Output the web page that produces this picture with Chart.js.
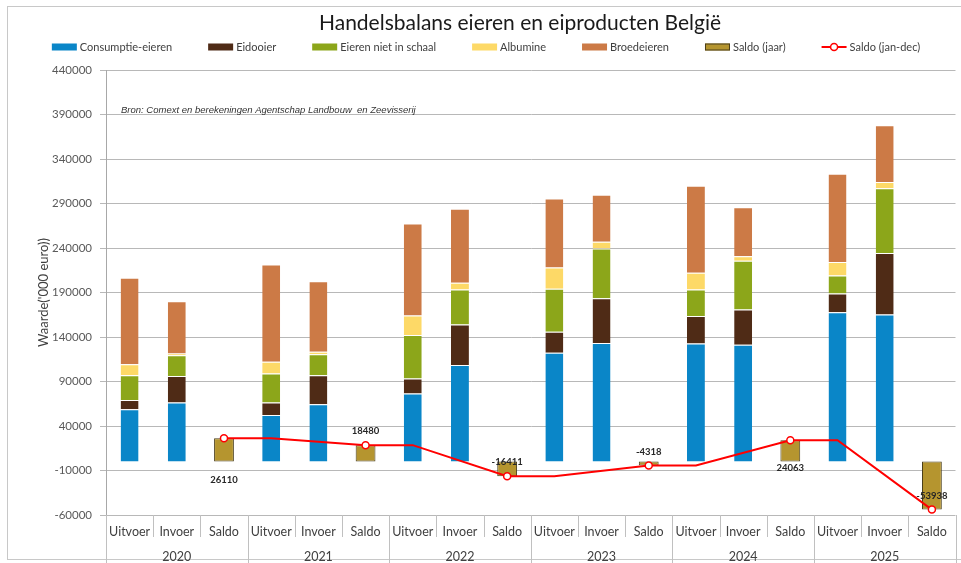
<!DOCTYPE html>
<html>
<head>
<meta charset="utf-8">
<title>Handelsbalans eieren en eiproducten België</title>
<script src="https://cdn.jsdelivr.net/npm/chart.js@4.4.1/dist/chart.umd.min.js"></script>
<style>
  html, body { margin: 0; padding: 0; background: #ffffff; }
  canvas { display: block; }
</style>
</head>
<body>
<canvas id="chart" width="961" height="563"></canvas>
<script>
// Categories: per year export, import and balance
const categories = [
  'Uitvoer', 'Invoer', 'Saldo', 'Uitvoer', 'Invoer', 'Saldo',
  'Uitvoer', 'Invoer', 'Saldo', 'Uitvoer', 'Invoer', 'Saldo',
  'Uitvoer', 'Invoer', 'Saldo', 'Uitvoer', 'Invoer', 'Saldo'
];
const years = ['2020', '2021', '2022', '2023', '2024', '2025'];

// Values in '000 euro (null where the category has no bar of this kind)
const consumptieEieren = [58700, 66400, null, 52500, 64500, null, 76500, 108500, null,
                         122400, 133200, null, 132800, 131400, null, 167900, 165400, null];
const eidooier =         [10600, 29800, null, 13900, 32500, null, 16800, 45600, null,
                          23600, 50400, null, 30700, 39600, null, 21000, 69100, null];
const eierenNietInSchaal = [27700, 23200, null, 32500, 23500, null, 48900, 39300, null,
                            48200, 55700, null, 29900, 54600, null, 20200, 72500, null];
const albumine =         [12300, 2200, null, 13400, 3000, null, 22000, 7500, null,
                          23800, 7700, null, 18700, 5100, null, 15300, 7100, null];
const broedeieren =      [97200, 58700, null, 109100, 79200, null, 103200, 83300, null,
                          77700, 52900, null, 97900, 55000, null, 99000, 63900, null];
const saldoJaar = [26110, 18480, -16411, -4318, 24063, -53938];
const saldoJanDec = [null, null, 26110, 26110, null, 18480, 18480, null, -16411,
                     -16411, null, -4318, -4318, null, 24063, 24063, null, -53938];

const yMin = -60000, yMax = 440000, yStep = 50000;

const FONT = 'Lato, "Open Sans", sans-serif';
const TEXT = '#404040';

// Balance bars sit on the "Saldo" slot of each year
const saldoJaarBars = categories.map((c, i) => (i % 3 === 2 ? saldoJaar[(i - 2) / 3] : null));

const segmentBorder = { top: 1, left: 0, right: 0, bottom: 0 };
function stackSeries(label, data, color) {
  return {
    type: 'bar', label, data, backgroundColor: color,
    borderColor: 'rgba(255,255,255,0.65)', borderWidth: segmentBorder, borderSkipped: false,
    stack: 'handel', barPercentage: 0.38, categoryPercentage: 1, order: 2
  };
}

// White page with a thin frame
const framePlugin = {
  id: 'frame',
  beforeDraw(chart) {
    const ctx = chart.ctx;
    ctx.save();
    ctx.fillStyle = '#ffffff';
    ctx.fillRect(0, 0, chart.width, chart.height);
    ctx.strokeStyle = '#c8c8c8';
    ctx.lineWidth = 1;
    ctx.strokeRect(7.5, 6.5, chart.width + 10, 553);
    ctx.restore();
  }
};

// Title and legend row
const headerPlugin = {
  id: 'header',
  afterDraw(chart) {
    const ctx = chart.ctx;
    ctx.save();
    ctx.fillStyle = '#1a1a1a';
    ctx.font = '21px ' + FONT;
    ctx.textAlign = 'center';
    ctx.textBaseline = 'middle';
    ctx.fillText('Handelsbalans eieren en eiproducten België', 520, 23);

    ctx.font = '11px ' + FONT;
    ctx.textAlign = 'left';
    const boxW = 25, boxH = 7, gapText = 3, gapItem = 36, cy = 47;
    const items = chart.data.datasets.map(ds => ({
      ds, w: boxW + gapText + ctx.measureText(ds.label).width
    }));
    const total = items.reduce((s, it) => s + it.w, 0) + gapItem * (items.length - 1);
    let x = 486 - total / 2;
    items.forEach(({ ds, w }) => {
      if (ds.type === 'line') {
        ctx.strokeStyle = ds.borderColor;
        ctx.lineWidth = 2;
        ctx.beginPath();
        ctx.moveTo(x, cy);
        ctx.lineTo(x + boxW, cy);
        ctx.stroke();
        ctx.beginPath();
        ctx.arc(x + boxW / 2, cy, 3.5, 0, Math.PI * 2);
        ctx.fillStyle = '#ffffff';
        ctx.fill();
        ctx.lineWidth = 1.5;
        ctx.stroke();
      } else {
        ctx.fillStyle = ds.backgroundColor;
        ctx.fillRect(x, cy - boxH / 2, boxW, boxH);
        if (ds.label === 'Saldo (jaar)') {
          ctx.strokeStyle = ds.borderColor;
          ctx.lineWidth = 1;
          ctx.strokeRect(x + 0.5, cy - boxH / 2 + 0.5, boxW - 1, boxH - 1);
        }
      }
      ctx.fillStyle = TEXT;
      ctx.fillText(ds.label, x + boxW + gapText, cy + 0.5);
      x += w + gapItem;
    });
    ctx.restore();
  }
};

// Source note inside the plot
const sourcePlugin = {
  id: 'sourceNote',
  beforeDatasetsDraw(chart) {
    const { ctx, chartArea } = chart;
    ctx.save();
    ctx.fillStyle = '#333333';
    ctx.font = 'italic 9.5px "Liberation Sans", Arial, sans-serif';
    ctx.textBaseline = 'middle';
    ctx.fillText('Bron: Comext en berekeningen Agentschap Landbouw  en Zeevisserij', chartArea.left + 15, chartArea.top + 40);
    ctx.restore();
  }
};

// Separators between the category labels and the year groups
const separatorPlugin = {
  id: 'separators',
  afterDraw(chart) {
    const { ctx, chartArea } = chart;
    const xs = chart.scales.x;
    const ys = chart.scales.years;
    ctx.save();
    ctx.strokeStyle = '#c0c0c0';
    ctx.lineWidth = 1;
    for (let i = 0; i <= categories.length; i++) {
      const px = Math.round(xs.getPixelForValue(i - 0.5)) + 0.5;
      const yEnd = i % 3 === 0 ? chart.height : ys.top - 4;
      ctx.beginPath();
      ctx.moveTo(px, chartArea.bottom);
      ctx.lineTo(px, yEnd);
      ctx.stroke();
    }
    ctx.restore();
  }
};

// Balance values written next to the line markers
const labelOffsets = [42, -14, -14, -14, 28, -14];
const valueLabelPlugin = {
  id: 'valueLabels',
  afterDatasetsDraw(chart) {
    const idx = chart.data.datasets.findIndex(d => d.type === 'line');
    const meta = chart.getDatasetMeta(idx);
    const ctx = chart.ctx;
    ctx.save();
    ctx.fillStyle = '#262626';
    ctx.font = 'bold 9.5px ' + FONT;
    ctx.textAlign = 'center';
    ctx.textBaseline = 'middle';
    let n = 0;
    chart.data.datasets[idx].data.forEach((v, i) => {
      if (i % 3 !== 2 || v === null) return;
      const pt = meta.data[i];
      ctx.fillText(String(v), pt.x, pt.y + labelOffsets[n]);
      n++;
    });
    ctx.restore();
  }
};

new Chart(document.getElementById('chart'), {
  data: {
    labels: categories,
    datasets: [
      stackSeries('Consumptie-eieren', consumptieEieren, '#0A86C8'),
      stackSeries('Eidooier', eidooier, '#4F2B16'),
      stackSeries('Eieren niet in schaal', eierenNietInSchaal, '#8CA61A'),
      stackSeries('Albumine', albumine, '#FDD967'),
      stackSeries('Broedeieren', broedeieren, '#CC7A46'),
      {
        type: 'bar', label: 'Saldo (jaar)', data: saldoJaarBars,
        backgroundColor: '#B5952F', borderColor: '#4A3F1C', borderWidth: 1, borderSkipped: false,
        stack: 'handel', barPercentage: 0.42, categoryPercentage: 1, order: 2
      },
      {
        type: 'line', label: 'Saldo (jan-dec)', data: saldoJanDec,
        borderColor: '#FF0000', borderWidth: 2, spanGaps: true, tension: 0,
        pointRadius: saldoJanDec.map((v, i) => (i % 3 === 2 ? 3.5 : 0)),
        pointBackgroundColor: '#ffffff', pointBorderColor: '#FF0000', pointBorderWidth: 1.5,
        stack: 'lijn', order: 0
      }
    ]
  },
  options: {
    responsive: false,
    devicePixelRatio: 1,
    animation: false,
    layout: { padding: { top: 70, right: 2, bottom: 0, left: 0 } },
    plugins: {
      legend: { display: false },
      title: { display: false },
      tooltip: { enabled: false }
    },
    scales: {
      x: {
        type: 'category',
        stacked: true,
        offset: true,
        weight: 0,
        grid: { display: false, drawTicks: false },
        border: { display: false },
        ticks: { color: TEXT, font: { family: FONT, size: 12.5 }, padding: 9, maxRotation: 0, autoSkip: false },
        afterFit(s) { s.height = 26; }
      },
      years: {
        type: 'category',
        position: 'bottom',
        labels: years,
        offset: true,
        weight: 1,
        grid: { display: false, drawTicks: false },
        border: { display: false },
        ticks: { color: TEXT, font: { family: FONT, size: 12.5 }, padding: 8, maxRotation: 0, autoSkip: false },
        afterFit(s) { s.height = 22; }
      },
      y: {
        stacked: true,
        min: yMin,
        max: yMax,
        ticks: {
          stepSize: yStep,
          color: '#595959',
          font: { family: FONT, size: 11.5 },
          padding: 8,
          callback: v => String(v)
        },
        grid: { color: '#b8b8b8', tickLength: 6, tickColor: '#b8b8b8' },
        border: { color: '#a8a8a8' },
        title: {
          display: true,
          text: "Waarde('000 euro))",
          color: TEXT,
          font: { family: FONT, size: 13 },
          padding: { top: 36, bottom: 0 }
        },
        afterFit(s) { s.width = 106; }
      }
    }
  },
  plugins: [framePlugin, headerPlugin, sourcePlugin, separatorPlugin, valueLabelPlugin]
});
</script>
</body>
</html>
